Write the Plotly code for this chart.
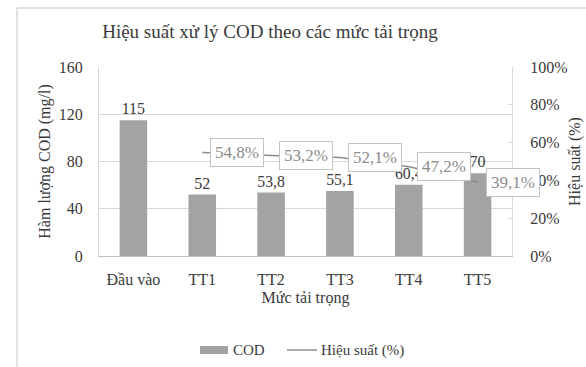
import plotly.graph_objects as go

# Chart data
categories = ["Đầu vào", "TT1", "TT2", "TT3", "TT4", "TT5"]
cod_values = [115, 52, 53.8, 55.1, 60.4, 70]
eff_categories = ["TT1", "TT2", "TT3", "TT4", "TT5"]
eff_values = [54.8, 53.2, 52.1, 47.2, 39.1]
left_ticks = [0, 40, 80, 120, 160]
right_ticks = [0, 20, 40, 60, 80, 100]


def vn_num(v):
    s = f"{v:g}"
    return s.replace(".", ",")


FONT = "Liberation Serif"
TXT = "#3A3A3A"
BAR = "#A3A3A3"
LINE = "#8C8C8C"
W, H = 586, 367
ML, MR, MT, MB = 99, 74, 67, 111
PW, PH = W - ML - MR, H - MT - MB


def px_x(px):
    return (px - ML) / PW


def px_y(py):
    return (H - MB - py) / PH


fig = go.Figure()

fig.add_trace(go.Bar(
    x=categories, y=cod_values, name="COD",
    marker=dict(color=BAR, line=dict(width=0)),
    width=0.4,
    text=[vn_num(v) for v in cod_values],
    textposition="outside",
    textfont=dict(family=FONT, size=16, color=TXT),
    cliponaxis=False,
))

fig.add_trace(go.Scatter(
    x=eff_categories, y=eff_values, name="Hiệu suất (%)",
    mode="lines", yaxis="y2",
    line=dict(color=LINE, width=1.5),
))

# Boxed percentage labels beside each efficiency point
for c, v in zip(eff_categories, eff_values):
    fig.add_annotation(
        x=c, y=v, xref="x", yref="y2",
        text=vn_num(v) + "%", showarrow=False,
        xanchor="left", yanchor="middle", xshift=8,
        font=dict(family=FONT, size=17, color="#8C8C8C"),
        bgcolor="white", bordercolor="#C4C4C4", borderwidth=1, borderpad=4,
    )

# Outer chart frame
fig.add_shape(type="line", xref="paper", yref="paper",
              x0=px_x(17), x1=px_x(17), y0=px_y(8), y1=px_y(367),
              line=dict(color="#D9D9D9", width=1.5), layer="below")
fig.add_shape(type="line", xref="paper", yref="paper",
              x0=px_x(17), x1=px_x(586), y0=px_y(8), y1=px_y(8),
              line=dict(color="#D9D9D9", width=1.5), layer="below")

# Legend drawn below the axis title
fig.add_shape(type="rect", xref="paper", yref="paper",
              x0=px_x(200), x1=px_x(228), y0=px_y(354), y1=px_y(346),
              fillcolor=BAR, line=dict(width=0))
fig.add_annotation(x=px_x(231), y=px_y(350), xref="paper", yref="paper",
                   text="COD", showarrow=False, xanchor="left", yanchor="middle",
                   font=dict(family=FONT, size=15, color=TXT))
fig.add_shape(type="line", xref="paper", yref="paper",
              x0=px_x(287), x1=px_x(317), y0=px_y(350), y1=px_y(350),
              line=dict(color=LINE, width=1.5))
fig.add_annotation(x=px_x(319), y=px_y(350), xref="paper", yref="paper",
                   text="Hiệu suất (%)", showarrow=False, xanchor="left", yanchor="middle",
                   font=dict(family=FONT, size=15, color=TXT))

fig.update_layout(
    width=W, height=H,
    margin=dict(l=ML, r=MR, t=MT, b=MB, autoexpand=False),
    paper_bgcolor="white", plot_bgcolor="white",
    font=dict(family=FONT, color=TXT),
    title=dict(text="Hiệu suất xử lý COD theo các mức tải trọng",
               x=270 / W, xref="container", xanchor="center",
               y=1 - 31 / H, yref="container", yanchor="middle",
               font=dict(family=FONT, size=19, color=TXT)),
    showlegend=False,
    xaxis=dict(
        categoryorder="array", categoryarray=categories,
        range=[-0.5, len(categories) - 0.5], autorange=False,
        showline=True, linecolor="#BFBFBF", linewidth=1,
        ticks="", tickfont=dict(family=FONT, size=16, color=TXT),
        ticklabelstandoff=9, automargin=False,
        title=dict(text="Mức tải trọng", standoff=4,
                   font=dict(family=FONT, size=16, color=TXT)),
    ),
    yaxis=dict(
        range=[0, 160], tickvals=left_ticks,
        showgrid=True, gridcolor="#D9D9D9", gridwidth=1,
        showline=True, linecolor="#D9D9D9", zeroline=False,
        tickfont=dict(family=FONT, size=16, color=TXT),
        ticklabelstandoff=12, automargin=False,
        title=dict(text="Hàm lượng COD (mg/l)", standoff=4,
                   font=dict(family=FONT, size=16, color=TXT)),
    ),
    yaxis2=dict(
        overlaying="y", side="right",
        range=[0, 100], tickvals=right_ticks,
        ticktext=[f"{t}%" for t in right_ticks],
        showgrid=False, zeroline=False,
        showline=True, linecolor="#D9D9D9",
        ticks="inside", ticklen=4, tickcolor="#D9D9D9",
        tickfont=dict(family=FONT, size=16, color=TXT),
        ticklabelstandoff=14, automargin=False,
        title=dict(text="Hiệu suất (%)", standoff=2,
                   font=dict(family=FONT, size=16, color=TXT)),
    ),
)

fig.write_html("out.html")
